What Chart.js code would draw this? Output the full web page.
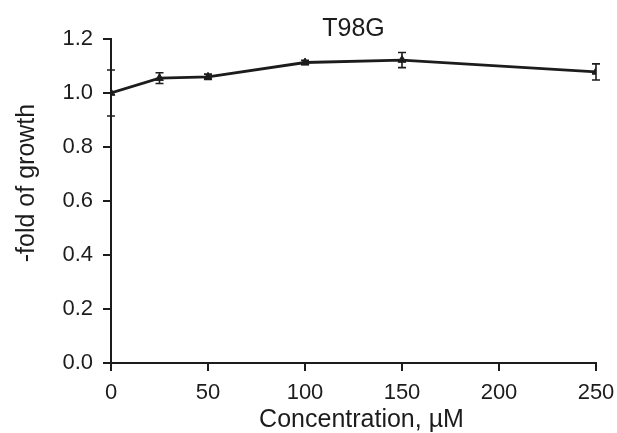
<!DOCTYPE html>
<html>
<head>
<meta charset="utf-8">
<script src="https://cdn.jsdelivr.net/npm/chart.js@4"></script>
<style>
  html, body { margin: 0; padding: 0; background: #fff; }
  #wrap { width: 617px; height: 433px; }
</style>
</head>
<body>
<div id="wrap"><canvas id="growthChart" width="617" height="433"></canvas></div>
<script>
// T98G growth vs concentration
const concentrations = [0, 25, 50, 100, 150, 250];
const foldGrowth = [1.0, 1.055, 1.06, 1.113, 1.122, 1.078];
const errors = [0.085, 0.02, 0.01, 0.008, 0.028, 0.03];
const xTicks = [0, 50, 100, 150, 200, 250];
const yTicks = [0.0, 0.2, 0.4, 0.6, 0.8, 1.0, 1.2];
const chartTitle = 'T98G';
const xTitle = 'Concentration, µM';
const yTitle = '-fold of growth';

const ink = '#1c1c1c';
const fontFamily = 'Arial, "Liberation Sans", Helvetica, sans-serif';

// vertical error bars with caps
const errorBars = {
    id: 'errorBars',
    afterDatasetsDraw(chart) {
        const ctx = chart.ctx;
        const xs = chart.scales.x, ys = chart.scales.y;
        ctx.save();
        ctx.strokeStyle = ink;
        ctx.lineWidth = 1.6;
        concentrations.forEach((c, i) => {
            const px = xs.getPixelForValue(c);
            const top = ys.getPixelForValue(foldGrowth[i] + errors[i]);
            const bot = ys.getPixelForValue(foldGrowth[i] - errors[i]);
            ctx.beginPath();
            ctx.moveTo(px, top); ctx.lineTo(px, bot);
            ctx.moveTo(px - 4, top); ctx.lineTo(px + 4, top);
            ctx.moveTo(px - 4, bot); ctx.lineTo(px + 4, bot);
            ctx.stroke();
        });
        ctx.restore();
    }
};

// chart title and axis titles
const titles = {
    id: 'titles',
    afterDraw(chart) {
        const ctx = chart.ctx;
        const area = chart.chartArea;
        const midX = (area.left + area.right) / 2;
        const midY = (area.top + area.bottom) / 2;
        ctx.save();
        ctx.fillStyle = ink;
        ctx.textAlign = 'center';
        ctx.textBaseline = 'middle';
        ctx.font = '25px ' + fontFamily;
        ctx.fillText(chartTitle, midX, 29);
        ctx.fillText(xTitle, midX + 8, 420);
        ctx.translate(27, midY - 18);
        ctx.rotate(-Math.PI / 2);
        ctx.fillText(yTitle, 0, 0);
        ctx.restore();
    }
};

const ctx = document.getElementById('growthChart').getContext('2d');

const myChart = new Chart(ctx, {
    type: 'line',
    data: {
        datasets: [{
            data: concentrations.map((c, i) => ({ x: c, y: foldGrowth[i] })),
            borderColor: ink,
            backgroundColor: ink,
            borderWidth: 2.8,
            pointStyle: 'triangle',
            pointRadius: 4.5,
            pointBorderWidth: 1,
            tension: 0
        }]
    },
    options: {
        responsive: false,
        animation: false,
        layout: { padding: { left: 0, right: 21, top: 39, bottom: 0 } },
        plugins: {
            legend: { display: false },
            tooltip: { enabled: false },
            title: { display: false }
        },
        scales: {
            x: {
                type: 'linear',
                min: 0,
                max: 250,
                afterBuildTicks: s => { s.ticks = xTicks.map(v => ({ value: v })); },
                afterFit: s => { s.height = 70; s.paddingLeft = 0; s.paddingRight = 0; },
                grid: { drawOnChartArea: false, drawTicks: true, tickLength: 8, color: ink, lineWidth: 2 },
                border: { display: true, color: ink, width: 2 },
                ticks: { color: ink, padding: 9, maxRotation: 0, font: { family: fontFamily, size: 22 } }
            },
            y: {
                min: 0,
                max: 1.2,
                afterBuildTicks: s => { s.ticks = yTicks.map(v => ({ value: v })); },
                afterFit: s => { s.width = 111; s.paddingTop = 0; s.paddingBottom = 0; },
                grid: { drawOnChartArea: false, drawTicks: true, tickLength: 8, color: ink, lineWidth: 2 },
                border: { display: true, color: ink, width: 2 },
                ticks: {
                    color: ink,
                    padding: 10,
                    font: { family: fontFamily, size: 22 },
                    callback: v => v.toFixed(1)
                }
            }
        }
    },
    plugins: [errorBars, titles]
});
</script>
</body>
</html>
